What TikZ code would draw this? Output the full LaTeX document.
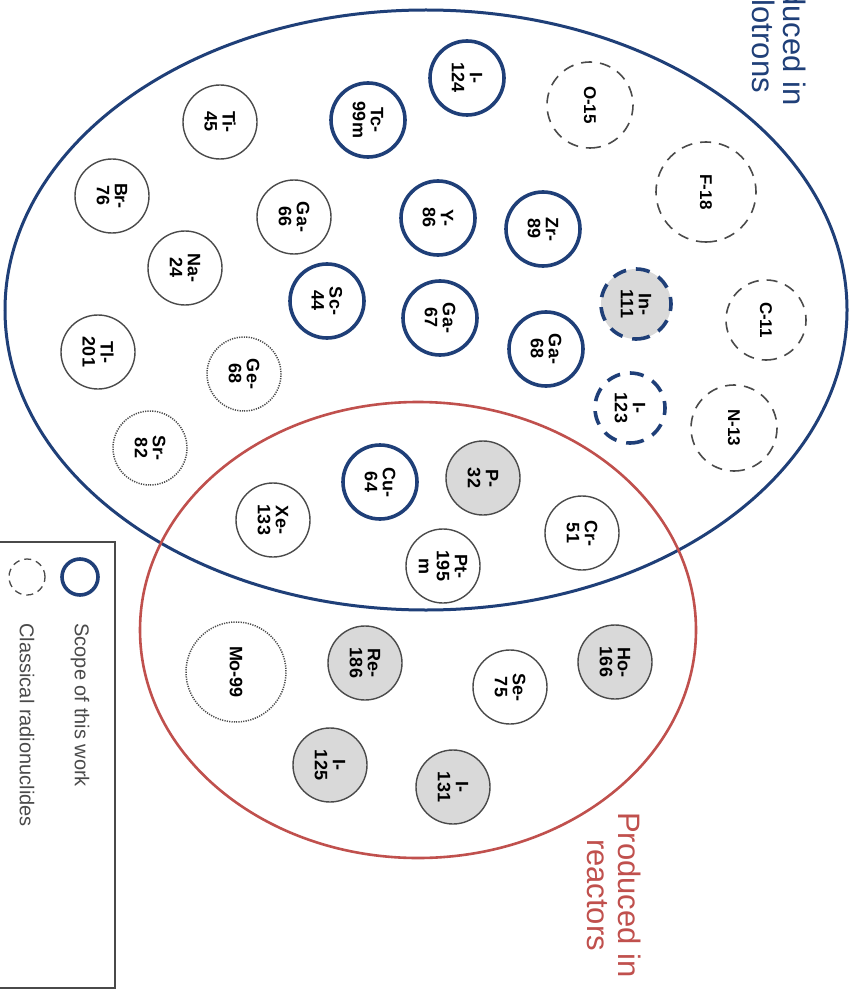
\documentclass[tikz,border=0pt]{standalone}
\usepackage{fontspec}
\setmainfont{Liberation Sans}
\usepackage{tikz}
\definecolor{bluemain}{HTML}{1F3F78}
\definecolor{redmain}{HTML}{C0504D}
\definecolor{graymuted}{HTML}{4A4A4A}
\definecolor{grayfill}{HTML}{D9D9D9}
\tikzset{every node/.append style={font=\rmfamily}}

\begin{document}
\begin{tikzpicture}[x=1pt,y=-1pt,
  iso/.style={circle,draw=graymuted,line width=1.4pt,minimum size=74pt,
    inner sep=0pt,rotate=-90,align=center,
    font=\rmfamily\bfseries\fontsize{18}{18}\selectfont},
  ownwork/.style={iso,draw=bluemain,line width=3.6pt},
  reactoriso/.style={iso,fill=grayfill},
  dotiso/.style={iso,line width=1.5pt,dash pattern=on 1.2pt off 1.2pt},
  classic/.style={iso,line width=1.6pt,dash pattern=on 11pt off 8pt,
    font=\rmfamily\bfseries\fontsize{17}{17}\selectfont},
  owndash/.style={iso,draw=bluemain,line width=3.6pt,dash pattern=on 14pt off 10pt},
  legtext/.style={rotate=-90,anchor=west,text=graymuted,
    font=\rmfamily\fontsize{20}{20}\selectfont}]
  \clip (0,0) rectangle (861,1000);
  \fill[white] (0,0) rectangle (861,1000);
  \draw[bluemain,line width=3pt] (426,310) ellipse [x radius=421pt,y radius=300pt];
  \draw[redmain,line width=2.6pt] (418,630) ellipse [x radius=278pt,y radius=228pt];
  \node[rotate=-90,align=center,text=bluemain,font=\rmfamily\fontsize{31}{31}\selectfont]
    (cyclo) at (776,23) {Produced in\\cyclotrons};
  \node[rotate=-90,align=center,text=redmain,font=\rmfamily\fontsize{31}{31}\selectfont]
    (react) at (614,895) {Produced in\\reactors};
  % scope of this work
  \node[ownwork] (I124) at (467,78) {I-\\124};
  \node[ownwork] (Tc99m) at (368,120) {Tc-\\99m};
  \node[ownwork] (Y86) at (438,218) {Y-\\86};
  \node[ownwork] (Zr89) at (543,229) {Zr-\\89};
  \node[ownwork] (Sc44) at (327,301) {Sc-\\44};
  \node[ownwork] (Ga67) at (440,318) {Ga-\\67};
  \node[ownwork] (Ga68) at (546,349) {Ga-\\68};
  \node[ownwork] (Cu64) at (380,482) {Cu-\\64};
  \node[owndash,fill=grayfill,minimum size=70pt] (In111) at (636,304) {In-\\111};
  \node[owndash,minimum size=70pt] (I123) at (630,408) {I-\\123};
  % others
  \node[iso] (Ti45) at (220,122) {Ti-\\45};
  \node[iso] (Br76) at (112,196) {Br-\\76};
  \node[iso] (Ga66) at (294,217) {Ga-\\66};
  \node[iso] (Na24) at (185,268) {Na-\\24};
  \node[iso] (Tl201) at (98,352) {Tl-\\201};
  \node[iso] (Xe133) at (273,520) {Xe-\\133};
  \node[iso] (Cr51) at (582,533) {Cr-\\51};
  \node[iso] (Pt195m) at (443,566) {Pt-\\195\\m};
  \node[iso] (Se75) at (510,687) {Se-\\75};
  \node[dotiso] (Ge68) at (244,374) {Ge-\\68};
  \node[dotiso] (Sr82) at (150,448) {Sr-\\82};
  \node[dotiso,minimum size=100pt] (Mo99) at (236,672) {Mo-99};
  \node[reactoriso] (P32) at (483,478) {P-\\32};
  \node[reactoriso] (Ho166) at (615,662) {Ho-\\166};
  \node[reactoriso] (Re186) at (365,663) {Re-\\186};
  \node[reactoriso] (I125) at (330,765) {I-\\125};
  \node[reactoriso] (I131) at (453,787) {I-\\131};
  \node[classic,minimum size=86pt] (O15) at (590,105) {O-15};
  \node[classic,minimum size=100pt] (F18) at (706,192) {F-18};
  \node[classic,minimum size=80pt] (C11) at (766,320) {C-11};
  \node[classic,minimum size=86pt] (N13) at (734,428) {N-13};
  % legend
  \draw[graymuted,line width=1.8pt] (-5,542) rectangle (115,988);
  \node[circle,draw=bluemain,line width=3.6pt,minimum size=36pt] (legown) at (80,577) {};
  \node[circle,draw=graymuted,line width=1.3pt,dash pattern=on 7pt off 5pt,
    minimum size=36pt] (legclass) at (27,577) {};
  \node[legtext] (legownt) at (80,620) {Scope of this work};
  \node[legtext] (legclasst) at (27,620) {Classical radionuclides};
\end{tikzpicture}
\end{document}
